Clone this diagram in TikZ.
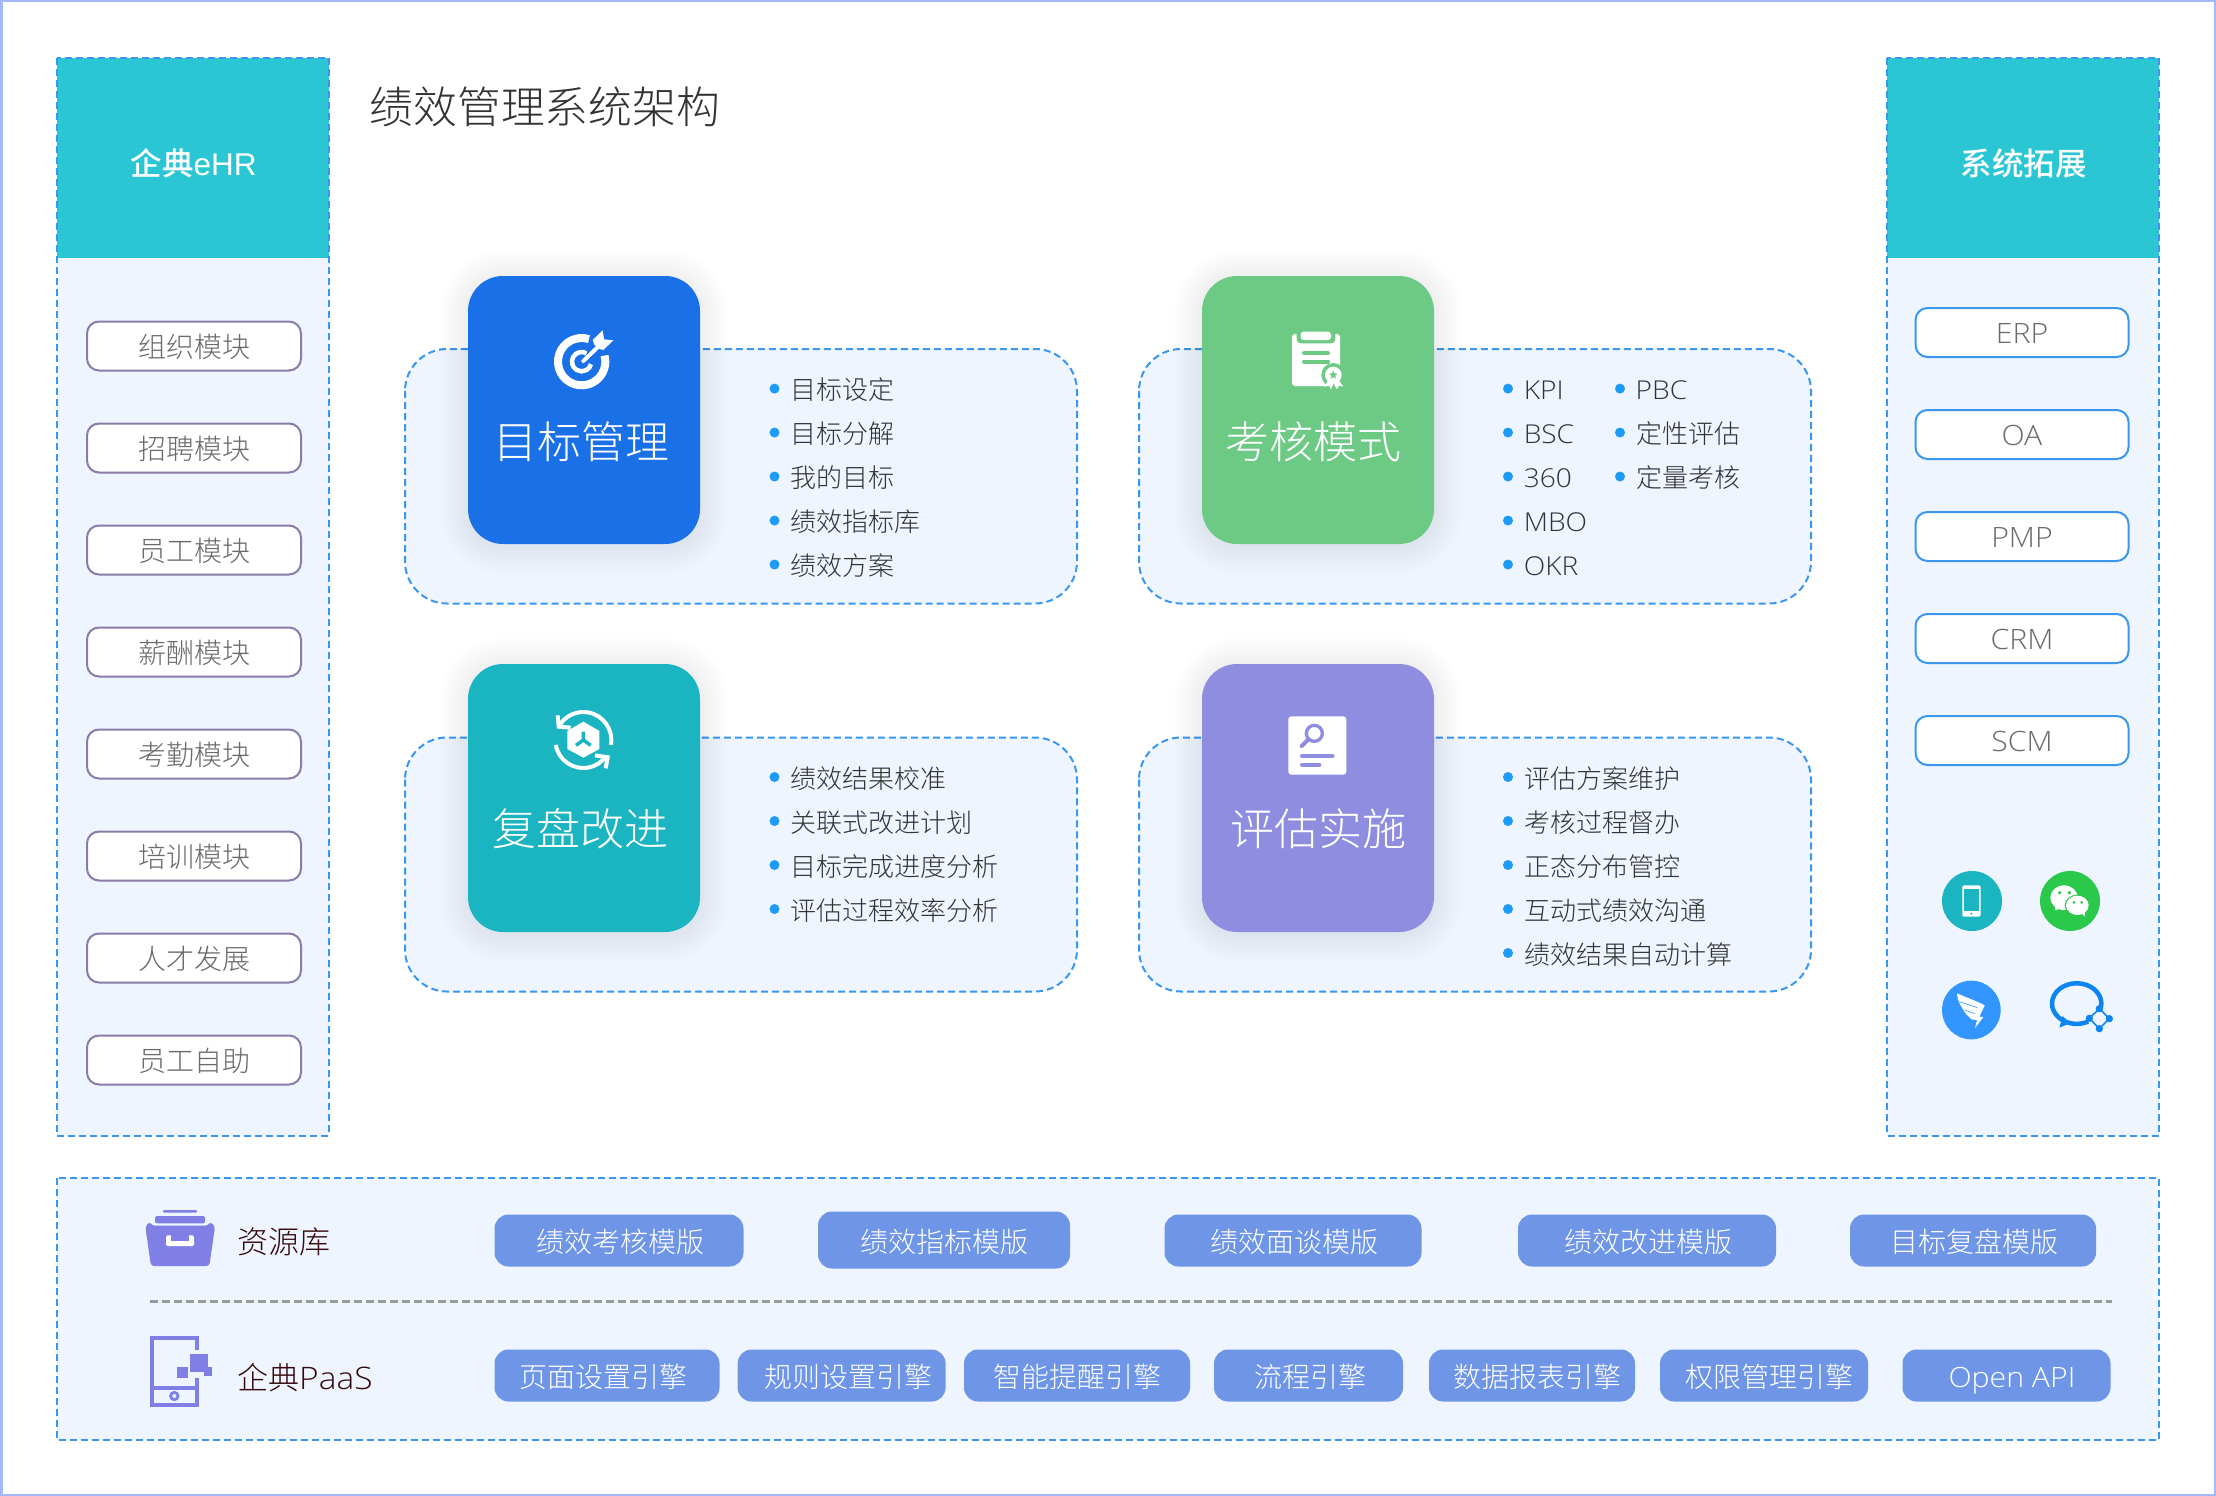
\documentclass[tikz,border=0pt]{standalone}
\usepackage{fontspec}
\usetikzlibrary{shapes.geometric}
\newfontfamily\cjl{Noto Sans CJK SC Light}
\newfontfamily\cjm{Noto Sans CJK SC Medium}
\newfontfamily\la{Open Sans Light}[FakeStretch=1.08]
\newfontfamily\lam{Liberation Sans}
\definecolor{frameblue}{HTML}{A3B8FF}
\definecolor{dashblue}{HTML}{3A97EC}
\definecolor{panel}{HTML}{EEF5FF}
\definecolor{headteal}{HTML}{2BC6D3}
\definecolor{itempurple}{HTML}{8A7CA8}
\definecolor{greytext}{HTML}{6A6A6A}
\definecolor{cardblue}{HTML}{1A70E6}
\definecolor{cardgreen}{HTML}{6DCA85}
\definecolor{cardteal}{HTML}{1AB5C0}
\definecolor{cardpurple}{HTML}{8E8DDF}
\definecolor{bulblue}{HTML}{1E9BF5}
\definecolor{btnblue}{HTML}{6F96E6}
\definecolor{maroon}{HTML}{36080C}
\definecolor{iconpurple}{HTML}{7F7FE6}
\definecolor{wechat}{HTML}{2AC84B}
\definecolor{ding}{HTML}{3396FF}
\definecolor{wecom}{HTML}{0D85F0}
\definecolor{shadowc}{HTML}{4A5578}
\tikzset{
  sz/.style={inner sep=0pt,
    font=\cjl\fontsize{#1}{#1}\selectfont,
    text height=\the\dimexpr #1pt*98/100\relax,
    text depth=\the\dimexpr #1pt*12/100\relax},
  szup/.style={inner sep=0pt,
    font=\cjl\fontsize{#1}{#1}\selectfont,
    text height=\the\dimexpr #1pt*91/100\relax,
    text depth=\the\dimexpr #1pt*12/100\relax},
  dashbox/.style={draw=dashblue,line width=2pt,dash pattern=on 7pt off 4pt},
  leftitem/.style={szup=28,text=greytext,draw=itempurple,line width=2pt,fill=white,rounded corners=12pt,
    minimum width=214pt,minimum height=49pt},
  rightitem/.style={szup=28,text=greytext,draw=dashblue,line width=2pt,fill=white,rounded corners=12pt,
    minimum width=213pt,minimum height=49pt},
  btn/.style={sz=28,text=white,fill=btnblue,rounded corners=14pt,minimum height=52pt},
  card/.style={rounded corners=35pt,minimum width=232pt,minimum height=268pt},
  cardtitle/.style={szup=44,text=white},
  listtext/.style={sz=26,anchor=west,text=black!80},
  bul/.style={circle,fill=bulblue,inner sep=0pt,minimum size=10pt},
  headtext/.style={szup=31.5,text=white,font=\cjm\fontsize{31.5}{31.5}\selectfont},
}
\newcommand{\softshadow}[4]{%
  \foreach \i in {1,...,16}{
    \fill[shadowc,opacity=.0055,rounded corners={35pt+1.8pt*\i}]
      ({#1-1.8*\i},{#3-1.8*\i+2}) rectangle ({#2+1.8*\i},{#4+1.8*\i+2});
  }}
\newcommand{\entry}[5]{% name bx tx y text
  \node[bul] (b#1) at (#2,#4) {};
  \node[listtext] (t#1) at (#3,#4) {#5};}
\begin{document}
\begin{tikzpicture}[x=1pt,y=-1pt]
\useasboundingbox (0,0) rectangle (2216,1496);
\fill[white] (0,0) rectangle (2216,1496);
\draw[frameblue,line width=5pt] (0,0) rectangle (2216,1496);

% left panel
\fill[panel] (56.7,58) rectangle (329,1135.5);
\fill[headteal] (56.7,58) rectangle (329,258);
\draw[dashbox] (56.7,58) rectangle (329,1135.5);
\node[headtext] (lefthead) at (193.7,163) {企典{\lam eHR}};
\foreach \n/\y/\t in {l1/346/组织模块,l2/448/招聘模块,l3/550/员工模块,l4/652/薪酬模块,l5/754/考勤模块,l6/856/培训模块,l7/958/人才发展,l8/1060/员工自助}{
  \node[leftitem] (\n) at (194,\y) {\t};
}
% right panel
\fill[panel] (1887,58) rectangle (2159,1135.5);
\fill[headteal] (1887,58) rectangle (2159,258);
\draw[dashbox] (1887,58) rectangle (2159,1135.5);
\node[headtext] (righthead) at (2023.5,163) {系统拓展};
\foreach \n/\y/\t in {r1/332.5/ERP,r2/434.5/OA,r3/536.5/PMP,r4/638.5/CRM,r5/740.5/SCM}{
  \node[rightitem,font=\la\fontsize{28}{28}\selectfont] (\n) at (2022,\y) {\t};
}
% title
\node[szup=43.8,anchor=west,text=black!80] (title) at (369.5,106) {绩效管理系统架构};

% dashed boxes
\foreach \a/\b/\c/\d in {405/1077/349/603.5,1139/1811/349/603.5,405/1077/737.5/991.5,1139/1811/737.5/991.5}{
  \draw[dashbox,fill=panel,rounded corners=42pt] (\a,\c) rectangle (\b,\d);
}
% cards
\softshadow{468}{700}{276}{544}
\softshadow{1202}{1434}{276}{544}
\softshadow{468}{700}{664}{932}
\softshadow{1202}{1434}{664}{932}
\node[card,fill=cardblue] (c1) at (584,410) {};
\node[card,fill=cardgreen] (c2) at (1318,410) {};
\node[card,fill=cardteal] (c3) at (584,798) {};
\node[card,fill=cardpurple] (c4) at (1318,798) {};
\node[cardtitle] (ct1) at (581,441) {目标管理};
\node[cardtitle] (ct2) at (1313.5,441) {考核模式};
\node[cardtitle] (ct3) at (580.5,828) {复盘改进};
\node[cardtitle] (ct4) at (1318.5,828) {评估实施};

% target icon
\begin{scope}[shift={(440,260)},scale=1/3]
  \draw[white,line width=8pt] (425,305) ++(-72:71) arc[start angle=-72,end angle=-375,radius=71];
  \draw[white,line width=4.5pt] (425,305) ++(-60:29) arc[start angle=-60,end angle=-345,radius=29];
  \draw[white,line width=4pt,line cap=round] (430,303) -- (480,255);
  \fill[white] (458,240) -- (488,211) -- (492,238) -- (520,241) -- (490,270) -- (472,265) -- (462,252) -- cycle;
\end{scope}
% clipboard icon
\begin{scope}[shift={(1180,260)},scale=1/3]
  \fill[white,rounded corners=3pt] (336,222) rectangle (480,378);
  \fill[cardgreen,rounded corners=4pt] (350,205) rectangle (466,250);
  \fill[white,rounded corners=3pt] (362,215) rectangle (453,240);
  \draw[cardgreen,line width=4pt,line cap=round] (372,280) -- (444,280);
  \draw[cardgreen,line width=4pt,line cap=round] (372,305) -- (444,305);
  \fill[cardgreen] (440,345) rectangle (490,392);
  \fill[cardgreen] (460,345) circle[radius=36];
  \fill[white] (460,345) circle[radius=25];
  \fill[white] (444,362) -- (433,380) -- (447,377) -- (453,388) -- (461,370) -- (470,388) -- (477,377) -- (490,380) -- (477,362) -- cycle;
  \node[star,star points=5,star point ratio=2.3,fill=cardgreen,inner sep=0pt,minimum size=9pt] (medalstar) at (460,345) {};
\end{scope}
% cycle icon
\begin{scope}[shift={(440,650)},scale=1/3]
  \draw[white,line width=4pt] (430,270) ++(10:84) arc[start angle=10,end angle=-150,radius=84];
  \draw[white,line width=4pt] (430,270) ++(170:84) arc[start angle=170,end angle=35,radius=84];
  \draw[white,line width=4pt,line join=miter] (353,196) -- (356,230) -- (392,233);
  \draw[white,line width=4pt,line join=miter] (465,316) -- (503,322) -- (497,355);
  \fill[white] (430,215) -- (478,243) -- (478,297) -- (430,323) -- (382,297) -- (382,243) -- cycle;
  \draw[cardteal,line width=3.5pt] (430,245) -- (430,270) -- (408,286);
  \draw[cardteal,line width=3.5pt] (430,270) -- (452,286);
\end{scope}
% report icon
\begin{scope}[shift={(1180,650)},scale=1/3]
  \fill[white,rounded corners=3pt] (325,199) rectangle (499,374);
  \draw[cardpurple,line width=3.3pt] (403,250) circle[radius=24];
  \draw[cardpurple,line width=4pt,line cap=round] (385,268) -- (365,288);
  \draw[cardpurple,line width=4pt,line cap=round] (366,319) -- (458,319);
  \draw[cardpurple,line width=4pt,line cap=round] (366,344) -- (418,344);
\end{scope}

% lists
\entry{a1}{774.5}{790}{388.6}{目标设定}
\entry{a2}{774.5}{790}{432.5}{目标分解}
\entry{a3}{774.5}{790}{476.5}{我的目标}
\entry{a4}{774.5}{790}{520.5}{绩效指标库}
\entry{a5}{774.5}{790}{564.5}{绩效方案}
\entry{b1}{1508}{1523.6}{388.6}{\la KPI}
\entry{b2}{1508}{1523.6}{432.5}{\la BSC}
\entry{b3}{1508}{1523.6}{476.5}{\la 360}
\entry{b4}{1508}{1523.6}{520.5}{\la MBO}
\entry{b5}{1508}{1523.6}{564.5}{\la OKR}
\entry{b6}{1620}{1635.5}{388.6}{\la PBC}
\entry{b7}{1620}{1636}{432.5}{定性评估}
\entry{b8}{1620}{1636}{476.5}{定量考核}
\entry{c1}{774.5}{790}{777}{绩效结果校准}
\entry{c2}{774.5}{790}{821}{关联式改进计划}
\entry{c3}{774.5}{790}{865}{目标完成进度分析}
\entry{c4}{774.5}{790}{909}{评估过程效率分析}
\entry{d1}{1508}{1524.5}{777}{评估方案维护}
\entry{d2}{1508}{1524.5}{821}{考核过程督办}
\entry{d3}{1508}{1524.5}{865}{正态分布管控}
\entry{d4}{1508}{1524.5}{909}{互动式绩效沟通}
\entry{d5}{1508}{1524.5}{953}{绩效结果自动计算}

% channel icons
\begin{scope}[shift={(1900,851)},scale=1/3]
  \fill[cardteal] (216,150) circle[radius=90];
  \fill[white,rounded corners=1.5pt] (187,103) rectangle (242,197);
  \fill[cardteal] (193,113) rectangle (236,180);
  \fill[cardteal] (214,188) circle[radius=3.5];
  \fill[wechat] (510,150) circle[radius=90];
  \fill[white] (492,140) ellipse[x radius=41,y radius=37];
  \fill[white] (465,165) -- (466,178) -- (487,170) -- cycle;
  \fill[wechat] (532,163) ellipse[x radius=38,y radius=32];
  \fill[white] (532,163) ellipse[x radius=34,y radius=29];
  \fill[white] (543,185) -- (555,197) -- (554,180) -- cycle;
  \fill[wechat] (479,125) circle[radius=5.5];
  \fill[wechat] (508,125) circle[radius=5.5];
  \fill[wechat] (522,154) circle[radius=4.5];
  \fill[wechat] (545,154) circle[radius=4.5];
  \fill[ding] (214,477) circle[radius=88];
  \fill[white] (171,427) .. controls (200,440) and (235,452) .. (254,463)
     -- (238,497) -- (250,498) -- (225,531) -- (231,507) -- (214,505)
     .. controls (205,495) and (192,485) .. (186,470)
     .. controls (178,458) and (172,445) .. cycle;
  \draw[ding,line width=.6pt] (178,452) -- (232,470);
  \draw[ding,line width=.6pt] (190,476) -- (225,488);
  \draw[wecom,line width=4.5pt] (530,455) ++(12:74) arc[start angle=12,end angle=-298,x radius=74,y radius=61];
  \fill[wecom] (488,495) -- (478,530) -- (515,515) -- (500,507) -- cycle;
  \draw[wecom,line width=1.6pt] (598,473) -- (628,503) -- (598,533) -- (568,502) -- cycle;
  \foreach \x/\y in {598/473,568/502,628/503,598/533}{ \fill[wecom] (\x,\y) circle[radius=11]; }
\end{scope}

% bottom panel
\draw[dashbox,fill=panel] (56.7,1177.5) rectangle (2159,1439.5);
\coordinate (divl) at (150,1301.5);
\coordinate (divr) at (2112,1301.5);
\draw[black!40,line width=2.2pt,dash pattern=on 8pt off 4pt] (divl) -- (divr);
\node[sz=31,anchor=west,text=maroon] (res) at (237,1240) {资源库};
\node[sz=31,anchor=west,text=maroon] (paas) at (237,1376) {企典{\la PaaS}};

% archive icon
\begin{scope}[shift={(40,1160)},scale=1/3]
  \fill[iconpurple,rounded corners=1.5pt] (368,158) -- (368,150) -- (472,150) -- (472,158) -- cycle;
  \fill[iconpurple,rounded corners=2pt] (345,190) -- (345,168) -- (495,168) -- (495,190) -- cycle;
  \fill[iconpurple,rounded corners=3pt] (316,200) -- (328,185) -- (336,197) -- (504,197) -- (512,185) -- (525,200) -- (508,318) -- (333,318) -- cycle;
  \fill[white,rounded corners=1.5pt] (378,226) rectangle (462,258);
  \fill[iconpurple] (392,222) rectangle (448,244);
\end{scope}
% paas icon
\begin{scope}[shift={(40,1160)},scale=1/3]
  \draw[iconpurple,line width=4.2pt] (471,570) -- (471,534) -- (336,534) -- (336,736) -- (471,736) -- (471,655);
  \draw[iconpurple,line width=4pt] (336,683) -- (471,683);
  \draw[iconpurple,line width=2.8pt] (403,708) circle[radius=11];
  \fill[iconpurple] (450,582) rectangle (503,635);
  \fill[iconpurple] (410,622) rectangle (444,655);
  \fill[iconpurple] (491,622) rectangle (517,648);
\end{scope}

% buttons
\node[btn,minimum width=249pt] (m1) at (619,1240.5) {\kern2pt 绩效考核模版};
\node[btn,minimum width=252pt,minimum height=57pt] (m2) at (944,1240) {绩效指标模版};
\node[btn,minimum width=257pt] (m3) at (1293,1240.5) {\kern2pt 绩效面谈模版};
\node[btn,minimum width=258pt] (m4) at (1647,1240.5) {\kern2pt 绩效改进模版};
\node[btn,minimum width=246pt] (m5) at (1973,1240.5) {\kern2pt 目标复盘模版};
\node[btn,minimum width=225pt] (e1) at (607,1375.5) {\kern-7pt 页面设置引擎};
\node[btn,minimum width=208pt] (e2) at (841.6,1375.5) {\kern12.8pt 规则设置引擎};
\node[btn,minimum width=226pt] (e3) at (1077,1375.5) {智能提醒引擎};
\node[btn,minimum width=189pt] (e4) at (1308.5,1375.5) {\kern4pt 流程引擎};
\node[btn,minimum width=206pt] (e5) at (1532,1375.5) {\kern11pt 数据报表引擎};
\node[btn,minimum width=208pt] (e6) at (1764,1375.5) {\kern10pt 权限管理引擎};
\node[btn,minimum width=208pt] (e7) at (2006.5,1375.5) {\kern11pt{\la Open API}};
\end{tikzpicture}
\end{document}
